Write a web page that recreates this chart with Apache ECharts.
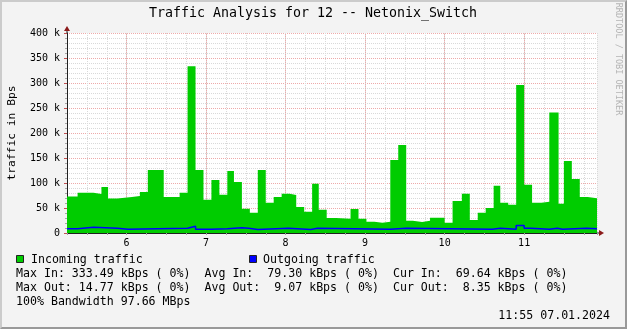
<!DOCTYPE html>
<html><head><meta charset="utf-8">
<script src="https://cdn.jsdelivr.net/npm/echarts@6/dist/echarts.min.js"></script>
<style>
html,body{margin:0;padding:0;background:#f3f3f3;}
#wrap{position:relative;width:627px;height:329px;overflow:hidden;}
#c{width:627px;height:329px;}
#frame{position:absolute;left:0;top:0;width:627px;height:329px;box-sizing:border-box;border-style:solid;border-width:2px;border-color:#cbcbcb #999 #999 #cbcbcb;pointer-events:none;}
</style></head><body>
<div id="wrap"><div id="c"></div><div id="frame"></div></div>
<script>
// ---- data (kBps) ----
const startTime = '5:15';
const endTime = '11:55';
const inStart = ['5:15','5:23','5:35','5:41','5:46','5:53','6:04','6:10','6:16','6:28','6:40','6:46','6:52','6:58','7:04','7:10','7:16','7:21','7:27','7:33','7:39','7:45','7:51','7:57','8:03','8:08','8:14','8:20','8:25','8:31','8:38','8:49','8:55','9:01','9:07','9:13','9:19','9:25','9:31','9:36','9:43','9:49','10:00','10:06','10:13','10:19','10:25','10:31','10:37','10:42','10:48','10:54','11:00','11:06','11:13','11:19','11:26','11:30','11:36','11:42','11:48'];
const inKBps = [73,80.5,78,92,69,72,74,82,126,72,80.5,333.49,126,66.7,106,76.7,124,102,48.5,40.7,126,60.7,72,78.7,76,52,42.7,98.7,46.7,30,28.7,48,28.7,22.7,20.7,22.7,146,176,24.7,22,24.7,30.7,20.7,64,78.7,26,40.7,50,94.7,60.7,56.5,296,96.7,60.7,62.7,241,58.7,144,108,72,69.64];
const outStart = ['5:15','5:23','5:35','5:53','6:01','6:46','6:52','7:04','7:16','7:27','7:32','7:39','8:02','8:19','8:24','9:19','9:31','10:36','10:42','10:54','11:00','11:05','11:19','11:25','11:29','11:47'];
const outKBps = [8.5,11.3,9.3,7.3,9.3,13.3,7.3,8.7,10.3,9.3,6.9,9.3,6.9,9.3,7.5,9.3,7.3,9.3,7.3,14.77,9.3,7.3,9.3,7.3,9.3,8.35];
const hourTicks = [6,7,8,9,10,11];
const yMax = 400, yStep = 50;
const titleText = 'Traffic Analysis for 12 -- Netonix_Switch';
const yName = 'traffic in Bps';
const legendIn = 'Incoming traffic', legendOut = 'Outgoing traffic';
const statLines = [
  'Max In: 333.49 kBps ( 0%)  Avg In:  79.30 kBps ( 0%)  Cur In:  69.64 kBps ( 0%)',
  'Max Out: 14.77 kBps ( 0%)  Avg Out:  9.07 kBps ( 0%)  Cur Out:  8.35 kBps ( 0%)',
  '100% Bandwidth 97.66 MBps'
];
const stamp = '11:55 07.01.2024';
const watermark = 'RRDTOOL / TOBI OETIKER';

// ---- helpers ----
function toMin(s){const p=s.split(':');return (+p[0])*60+(+p[1]);}
function stepData(starts, vals){
  const d = starts.map((s,i)=>[toMin(s), vals[i]]);
  d.push([toMin(endTime), vals[vals.length-1]]);
  return d;
}
const MONO = 'DejaVu Sans Mono';
const xMin = toMin(startTime), xMax = toMin(endTime);
const GREEN = '#00cc00', BLUE = '#0000ff';
const MINOR = '#d9d9d9', MAJOR = '#eeaaaa';

const chart = echarts.init(document.getElementById('c'), null, {renderer:'canvas'});
const txt = (text, x, y, size, opts) => Object.assign({type:'text', x:x, y:y, silent:true,
  style:{text:text, font: size+'px "'+MONO+'"', fill:'#000', align:'left', verticalAlign:'middle'}}, opts||{});

const graphics = [
  {type:'text', x:313, y:13.5, style:{text:titleText, font:'13.3px "'+MONO+'"', fill:'#000', align:'center', verticalAlign:'middle'}},
  {type:'text', x:618, y:59, rotation:-Math.PI/2, style:{text:watermark, font:'8.5px "'+MONO+'"', fill:'#b4b4b4', align:'center', verticalAlign:'middle'}},
  {type:'text', x:12, y:133, rotation:Math.PI/2, style:{text:yName, font:'11.3px "'+MONO+'"', fill:'#000', align:'center', verticalAlign:'middle'}},
  {type:'rect', shape:{x:16.5,y:255.5,width:7,height:7}, style:{fill:GREEN, stroke:'#222', lineWidth:1}},
  txt(legendIn, 31, 259.5, 11.6),
  {type:'rect', shape:{x:249.5,y:255.5,width:7,height:7}, style:{fill:BLUE, stroke:'#222', lineWidth:1}},
  txt(legendOut, 263, 259.5, 11.6),
  txt(statLines[0], 16, 273.5, 11.6),
  txt(statLines[1], 16, 287.5, 11.6),
  txt(statLines[2], 16, 301.5, 11.6),
  {type:'text', x:610, y:315.5, style:{text:stamp, font:'11.6px "'+MONO+'"', fill:'#000', align:'right', verticalAlign:'middle'}}
];

const yTicks = [];
for (let v=0; v<=yMax; v+=yStep) yTicks.push(v);

chart.setOption({
  animation:false,
  backgroundColor:'#f3f3f3',
  grid:{left:67, right:30, top:33, bottom:96, containLabel:false, outerBoundsMode:'none',
        show:true, backgroundColor:'#ffffff', borderWidth:0},
  xAxis:{
    type:'value', min:xMin, max:xMax, interval:15,
    axisLine:{show:true, onZero:false, lineStyle:{color:'#202020', width:1}},
    axisTick:{show:true, length:2, lineStyle:{color:'#a0a0a0'}},
    splitLine:{show:true, lineStyle:{color:MINOR, type:[1,1], width:1}},
    axisLabel:{interval:0, hideOverlap:false, margin:5, fontFamily:MONO, fontSize:10, color:'#000',
      formatter:v => (v%60===0 && hourTicks.indexOf(v/60)>=0) ? String(v/60) : ''}
  },
  yAxis:{
    type:'value', min:0, max:yMax, interval:yStep,
    axisLine:{show:true, lineStyle:{color:'#202020', width:1}},
    axisTick:{show:true, length:3, lineStyle:{color:'#c05050'}},
    minorTick:{show:true, splitNumber:5, length:2, lineStyle:{color:'#a8a8a8'}},
    splitLine:{show:true, lineStyle:{color:MAJOR, type:[1,1], width:1}},
    minorSplitLine:{show:true, lineStyle:{color:MINOR, type:[1,1], width:1}},
    axisLabel:{margin:7, fontFamily:MONO, fontSize:10, color:'#000',
      formatter:v => yTicks.indexOf(v)>=0 ? (v===0 ? '0' : v+' k') : ''}
  },
  series:[
    {type:'line', name:legendIn, step:'end', symbol:'none', z:3,
     lineStyle:{width:0, color:GREEN}, areaStyle:{color:GREEN, opacity:1},
     data:stepData(inStart, inKBps),
     markLine:{silent:true, z:1, symbol:['none','none'], label:{show:false},
       lineStyle:{color:MAJOR, type:[1,1], width:1},
       data:hourTicks.map(h=>({xAxis:h*60}))}},
    {type:'line', name:legendOut, step:'end', symbol:'none', z:4,
     lineStyle:{width:1.5, color:BLUE},
     data:stepData(outStart, outKBps)}
  ],
  graphic:graphics
});

// axis arrows (decorative), positioned from the axes
const pTop = chart.convertToPixel({gridIndex:0}, [xMin, yMax]);
const pRight = chart.convertToPixel({gridIndex:0}, [xMax, 0]);
const ARROW = '#8b1a1a';
graphics.push(
  {type:'line', shape:{x1:pTop[0], y1:pTop[1], x2:pTop[0], y2:pTop[1]-4}, style:{stroke:'#202020', lineWidth:1}},
  {type:'polygon', shape:{points:[[pTop[0], pTop[1]-7],[pTop[0]-3, pTop[1]-2],[pTop[0]+3, pTop[1]-2]]}, style:{fill:ARROW}},
  {type:'line', shape:{x1:pRight[0], y1:pRight[1], x2:pRight[0]+3, y2:pRight[1]}, style:{stroke:'#202020', lineWidth:1}},
  {type:'polygon', shape:{points:[[pRight[0]+7, pRight[1]],[pRight[0]+2, pRight[1]-3],[pRight[0]+2, pRight[1]+3]]}, style:{fill:ARROW}}
);
chart.setOption({graphic:graphics});
</script>
</body></html>
